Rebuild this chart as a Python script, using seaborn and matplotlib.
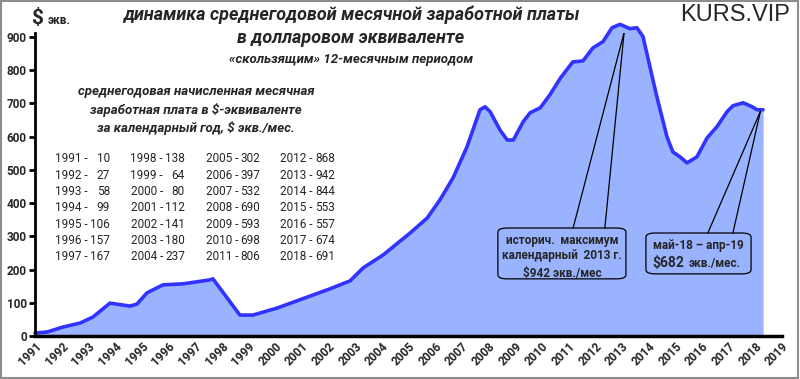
import numpy as np
import pandas as pd
import matplotlib
matplotlib.use("Agg")
import matplotlib.pyplot as plt
import seaborn as sns
from matplotlib.patches import FancyBboxPatch, Rectangle
from matplotlib.lines import Line2D

sns.set_theme(style="white")
plt.rcParams['font.family'] = ['Roboto', 'DejaVu Sans']

# rolling 12-month average wage, $ equivalent
years = [1991.0, 1991.45, 1992.05, 1992.69, 1993.17, 1993.81, 1994.56, 1994.82,
         1995.2, 1995.8, 1996.55, 1997.56, 1997.67, 1998.68, 1999.17, 2000.07,
         2001.2, 2002.06, 2002.81, 2003.3, 2004.05, 2005.06, 2005.7, 2006.18,
         2006.67, 2007.19, 2007.68, 2007.87, 2008.06, 2008.43, 2008.7, 2008.93,
         2009.3, 2009.56, 2009.94, 2010.3, 2010.7, 2011.16, 2011.54, 2011.91,
         2012.29, 2012.63, 2012.93, 2013.3, 2013.56, 2013.79, 2014.05, 2014.31,
         2014.69, 2014.91, 2015.18, 2015.44, 2015.81, 2016.19, 2016.56, 2016.94,
         2017.16, 2017.54, 2017.88, 2018.06, 2018.29]
wage = [9, 12, 27, 39, 57, 99, 90, 96,
        130, 154, 157, 169, 172, 63, 63, 84,
        117, 142, 166, 205, 244, 310, 355, 410,
        476, 569, 681, 690, 675, 620, 590, 590,
        645, 672, 687, 726, 777, 825, 828, 867,
        886, 928, 938, 925, 928, 901, 810, 720,
        599, 554, 539, 521, 539, 596, 630, 675,
        693, 702, 690, 681, 681]

# calendar-year averages (text table)
table_years = list(range(1991, 2019))
table_vals = [10, 27, 58, 99, 106, 157, 167, 138, 64, 80, 112, 141, 180, 237,
              302, 397, 532, 690, 593, 698, 806, 868, 942, 844, 553, 557, 674, 691]

tick_years = list(range(1991, 2020))
y_ticks = list(range(0, 1000, 100))

line_col = '#3333FF'
fill_col = '#99B3FF'

W, H = 800, 379
fx = lambda px: px / W
fy = lambda py: 1 - py / H

df = pd.DataFrame({'year': years, 'wage': wage})

fig = plt.figure(figsize=(8, 3.79), dpi=100)
ax = fig.add_axes([fx(35), fy(336), fx(782) - fx(35), fy(33) - fy(336)])

ax.fill_between(df['year'], df['wage'], color=fill_col, lw=0, clip_on=False, zorder=1)
sns.lineplot(data=df, x='year', y='wage', ax=ax, color=line_col, lw=2.6,
             clip_on=False, zorder=2, solid_joinstyle='round', solid_capstyle='round')

ax.set_xlim(1991, 2019)
ax.set_ylim(0, 912)
ax.set_xlabel('')
ax.set_ylabel('')
ax.set_xticks(tick_years)
ax.set_xticklabels([str(y) for y in tick_years], rotation=45, ha='right',
                   rotation_mode='anchor', fontsize=8.5, fontweight='bold')
ax.set_yticks(y_ticks)
ax.set_yticklabels([str(v) for v in y_ticks], fontsize=8.5, fontweight='bold')
ax.tick_params(axis='y', length=4, width=2, direction='out', pad=2, color='black', left=True)
ax.tick_params(axis='x', length=0, pad=3)
for s in ['top', 'right']:
    ax.spines[s].set_visible(False)
ax.spines['left'].set_linewidth(2)
ax.spines['bottom'].set_linewidth(2.5)
ax.spines['left'].set_color('black')
ax.spines['bottom'].set_color('black')
ax.grid(False)
ax.set_facecolor('none')

# titles
fig.text(fx(351), fy(15), 'динамика среднегодовой месячной заработной платы',
         ha='center', va='center', fontsize=13, fontweight='bold', style='italic')
fig.text(fx(351), fy(38), 'в долларовом эквиваленте',
         ha='center', va='center', fontsize=13, fontweight='bold', style='italic')
fig.text(fx(351), fy(59), '«скользящим» 12-месячным периодом',
         ha='center', va='center', fontsize=9.5, fontweight='bold', style='italic')
fig.text(fx(31), fy(19), '$', ha='left', va='center', fontsize=15, fontweight='bold')
fig.text(fx(48), fy(21), 'экв.', ha='left', va='center', fontsize=8.5, fontweight='bold')
fig.text(fx(790), fy(15), 'KURS.VIP', ha='right', va='center', fontsize=17,
         family=['Liberation Sans', 'DejaVu Sans'])

# left description block
desc = ['среднегодовая начисленная месячная',
        'заработная плата в $-эквиваленте',
        'за календарный год, $ экв./мес.']
for k, s in enumerate(desc):
    fig.text(fx(196), fy(92 + 18 * k), s, ha='center', va='center',
             fontsize=9.5, style='italic', fontweight='bold')

col_right = [110, 185, 260, 335]
for i, (yr, v) in enumerate(zip(table_years, table_vals)):
    c, r = divmod(i, 7)
    py = 159 + r * 16.3
    fig.text(fx(col_right[c] - 22), fy(py), f'{yr} -', ha='right', va='center', fontsize=8.5)
    fig.text(fx(col_right[c]), fy(py), f'{v}', ha='right', va='center', fontsize=8.5)

# callouts
i_max = int(np.argmax(wage))
peak_pt = (years[i_max] + 0.15, wage[i_max] - 25)
last_pt = (years[-1] - 0.1, wage[-1] - 5)

def callout(x0, x1, y0, y1, base, target):
    box = FancyBboxPatch((x0, y1), x1 - x0, y0 - y1,
                         boxstyle='round,pad=0,rounding_size=0.35',
                         mutation_aspect=35, fc='none', ec='black', lw=0.9, zorder=5)
    ax.add_patch(box)
    for bx in base:
        ax.add_line(Line2D([bx, target[0]], [y0, target[1]], color='black', lw=0.9, zorder=5))

callout(2008.35, 2013.15, 325, 172, [2011.17, 2012.36], peak_pt)
callout(2013.9, 2017.84, 310, 187, [2016.22, 2017.16], last_pt)

fig.text(fx(562), fy(240), 'историч.  максимум', ha='center', va='center', fontsize=8.5, fontweight='bold')
fig.text(fx(562), fy(256), 'календарный  2013 г.', ha='center', va='center', fontsize=8.5, fontweight='bold')
fig.text(fx(562), fy(273), '$942 экв./мес', ha='center', va='center', fontsize=8.5, fontweight='bold')
fig.text(fx(698), fy(245), 'май-18 – апр-19', ha='center', va='center', fontsize=8.5, fontweight='bold')
fig.text(fx(684), fy(263), '$682', ha='right', va='center', fontsize=10, fontweight='bold')
fig.text(fx(689), fy(264), 'экв./мес.', ha='left', va='center', fontsize=8.5, fontweight='bold')

# outer border
fig.patches.append(Rectangle((0.001, 0.002), 0.997, 0.995, transform=fig.transFigure,
                             fill=False, ec='#8c8c8c', lw=1.5))

fig.savefig('out.png', dpi=100)
